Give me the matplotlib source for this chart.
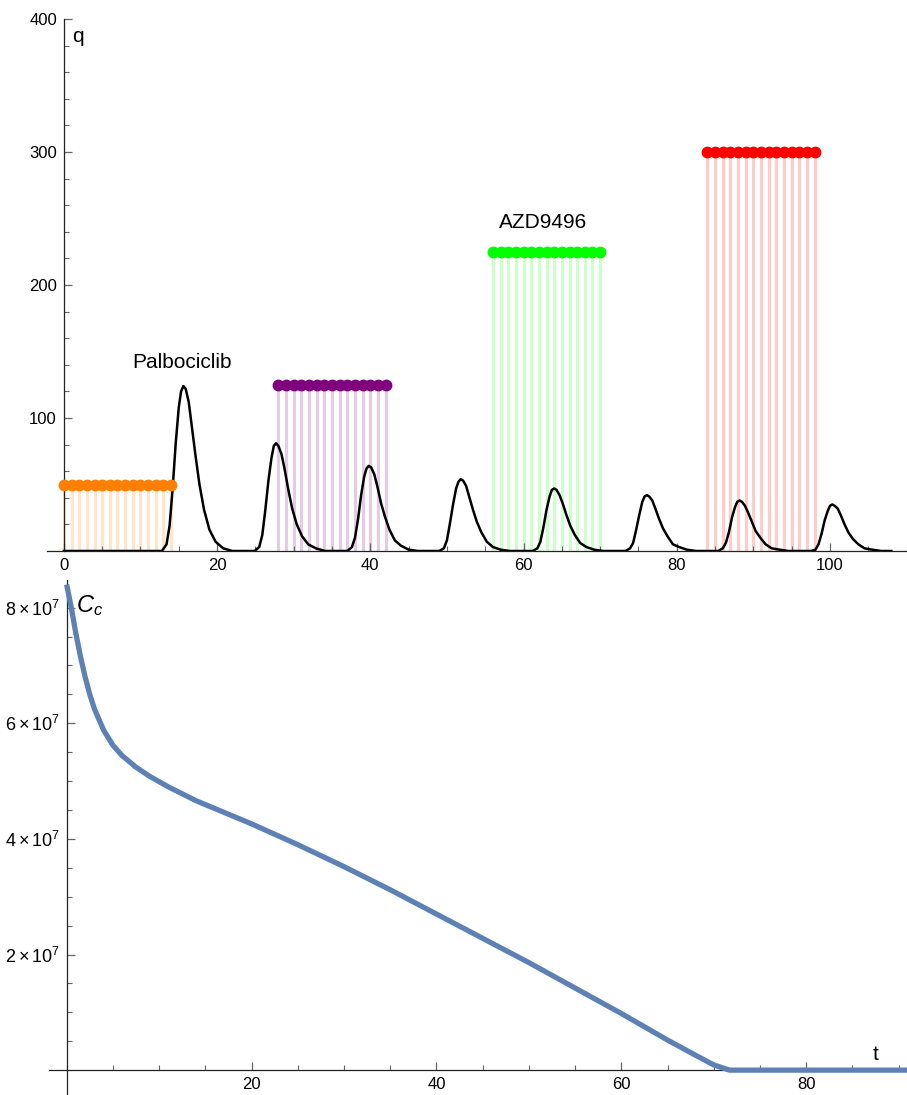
import numpy as np
import matplotlib.pyplot as plt
from matplotlib.ticker import MultipleLocator, FixedLocator

plt.rcParams['font.family'] = ['Liberation Sans', 'DejaVu Sans']
plt.rcParams['mathtext.fontset'] = 'custom'
plt.rcParams['mathtext.rm'] = 'Liberation Sans'
plt.rcParams['mathtext.it'] = 'Liberation Sans:italic'

# dosing schedule: 15 daily doses per course
course_start = [0, 28, 56, 84]
course_level = [50, 125, 225, 300]
course_color = ['#FF7F00', '#800080', '#00FF00', '#FF0000']
doses_per_course = 15

# q(t), one row per pulse
q_t = [0,
       12.8, 13.4, 13.8, 14.2, 14.6, 15.0, 15.3, 15.6, 15.9, 16.3, 16.7, 17.2, 17.7, 18.3, 19.0, 19.8, 20.8, 22.0,
       24.9, 25.5, 25.9, 26.3, 26.7, 27.1, 27.4, 27.7, 28.0, 28.4, 28.8, 29.3, 29.8, 30.4, 31.1, 31.9, 32.9, 34.1,
       37.0, 37.6, 38.0, 38.4, 38.8, 39.2, 39.5, 39.8, 40.1, 40.5, 40.9, 41.4, 41.9, 42.5, 43.2, 44.0, 45.0, 46.2,
       49.0, 49.6, 50.0, 50.4, 50.8, 51.2, 51.5, 51.8, 52.1, 52.5, 52.9, 53.4, 53.9, 54.5, 55.2, 56.0, 57.0, 58.2,
       61.2, 61.8, 62.2, 62.6, 63.0, 63.4, 63.7, 64.0, 64.3, 64.7, 65.1, 65.6, 66.1, 66.7, 67.4, 68.2, 69.2, 70.4,
       73.3, 73.9, 74.3, 74.7, 75.1, 75.5, 75.8, 76.1, 76.4, 76.8, 77.2, 77.7, 78.2, 78.8, 79.5, 80.3, 81.3, 82.5,
       85.4, 86.0, 86.4, 86.8, 87.2, 87.6, 87.9, 88.2, 88.5, 88.9, 89.3, 89.8, 90.3, 90.9, 91.6, 92.4, 93.4, 94.6,
       97.5, 98.1, 98.5, 98.9, 99.3, 99.7, 100.0, 100.3, 100.6, 101.0, 101.4, 101.9, 102.4, 103.0, 103.7, 104.5, 105.5, 106.7,
       108.0]
q_v = [0,
       0, 5, 19, 47, 81, 108, 120, 124, 122, 112, 94, 71, 50, 31, 16, 7, 2, 0,
       0, 3, 12, 31, 53, 70, 79, 81, 79, 73, 62, 46, 32, 20, 11, 5, 2, 0,
       0, 3, 10, 24, 42, 56, 62, 64, 63, 58, 49, 36, 26, 16, 8, 4, 1, 0,
       0, 2, 8, 21, 35, 47, 52, 54, 53, 49, 41, 31, 22, 14, 7, 3, 1, 0,
       0, 2, 7, 18, 31, 41, 46, 47, 46, 42, 36, 27, 19, 12, 6, 3, 1, 0,
       0, 2, 6, 16, 27, 37, 41, 42, 41, 38, 32, 24, 17, 11, 5, 3, 1, 0,
       0, 2, 6, 14, 25, 33, 37, 38, 37, 34, 29, 22, 15, 10, 5, 2, 1, 0,
       0, 1, 5, 13, 23, 30, 34, 35, 34, 32, 27, 20, 14, 9, 5, 2, 1, 0,
       0]

# C_c(t)
cc_t = [0, 0.5, 1, 1.5, 2, 2.5, 3, 4, 5, 6, 7.5, 9, 11, 14, 17, 20, 25, 30, 35, 40,
        45, 50, 55, 60, 65, 68, 70, 71.7, 80, 91]
cc_v = [8.4e7, 8.0e7, 7.55e7, 7.15e7, 6.8e7, 6.5e7, 6.25e7, 5.88e7, 5.62e7, 5.44e7, 5.24e7,
        5.08e7, 4.9e7, 4.66e7, 4.46e7, 4.26e7, 3.9e7, 3.52e7, 3.12e7, 2.7e7,
        2.28e7, 1.86e7, 1.42e7, 0.98e7, 0.52e7, 0.26e7, 0.09e7, 0, 0, 0]

W, H = 907, 1095
fig = plt.figure(figsize=(W / 100, H / 100), dpi=100)

def style_axes(ax):
    for s in ['top', 'right']:
        ax.spines[s].set_visible(False)
    for s in ['left', 'bottom']:
        ax.spines[s].set_position(('data', 0))
        ax.spines[s].set_color('#222222')
        ax.spines[s].set_linewidth(0.9)
    ax.tick_params(which='both', direction='in', colors='#666666', labelcolor='black',
                   labelsize=12)
    ax.tick_params(which='major', length=6, width=0.9, pad=5)
    ax.tick_params(which='minor', length=3.5, width=0.8)
    ax.set_facecolor('none')

# ---- top: doses and q ----
ax1 = fig.add_axes([47 / W, 1 - 551 / H, 1 - 47 / W, (551 - 19) / H])
style_axes(ax1)
for start, level, col in zip(course_start, course_level, course_color):
    days = np.arange(start, start + doses_per_course)
    ax1.vlines(days, 0, level, colors=col, alpha=0.2, lw=2.3, zorder=1)
    ax1.plot(days, [level] * len(days), 'o', color=col, ms=7.5, zorder=4, clip_on=False)
ax1.plot(q_t, q_v, color='black', lw=1.8, zorder=3)
ax1.set_xlim(-2.2, 110.05)
ax1.set_ylim(0, 400)
ax1.xaxis.set_major_locator(FixedLocator([0, 20, 40, 60, 80, 100]))
ax1.xaxis.set_minor_locator(MultipleLocator(5))
ax1.yaxis.set_major_locator(FixedLocator([100, 200, 300, 400]))
ax1.yaxis.set_minor_locator(MultipleLocator(20))
ax1.text(15.4, 142, 'Palbociclib', fontsize=15, ha='center', va='center')
ax1.text(62.5, 247, 'AZD9496', fontsize=15, ha='center', va='center')
fig.text(78 / W, 1 - 37 / H, 'q', fontsize=15, ha='center', va='center')

# ---- bottom: C_c ----
ax2 = fig.add_axes([49 / W, 0, 1 - 49 / W, (1095 - 580) / H])
style_axes(ax2)
ax2.plot(cc_t, cc_v, color='#5E81B5', lw=3.8, solid_capstyle='butt', zorder=3)
ax2.set_xlim(-1.91, 90.9)
ax2.set_ylim(-0.43e7, 8.478e7)
ax2.xaxis.set_major_locator(FixedLocator([20, 40, 60, 80]))
ax2.xaxis.set_minor_locator(MultipleLocator(5))
ax2.yaxis.set_major_locator(FixedLocator([2e7, 4e7, 6e7, 8e7]))
ax2.yaxis.set_minor_locator(MultipleLocator(0.5e7))
ax2.set_yticklabels([r'$2\times10^{7}$', r'$4\times10^{7}$', r'$6\times10^{7}$', r'$8\times10^{7}$'],
                    fontsize=13)
ax2.set_xticklabels(['20', '40', '60', '80'])
fig.text(90 / W, 1 - 606 / H, r'$C_c$', fontsize=17, ha='center', va='center')
fig.text(876 / W, 1 - 1055 / H, 't', fontsize=15, ha='center', va='center')

fig.savefig('out.png', dpi=100)
